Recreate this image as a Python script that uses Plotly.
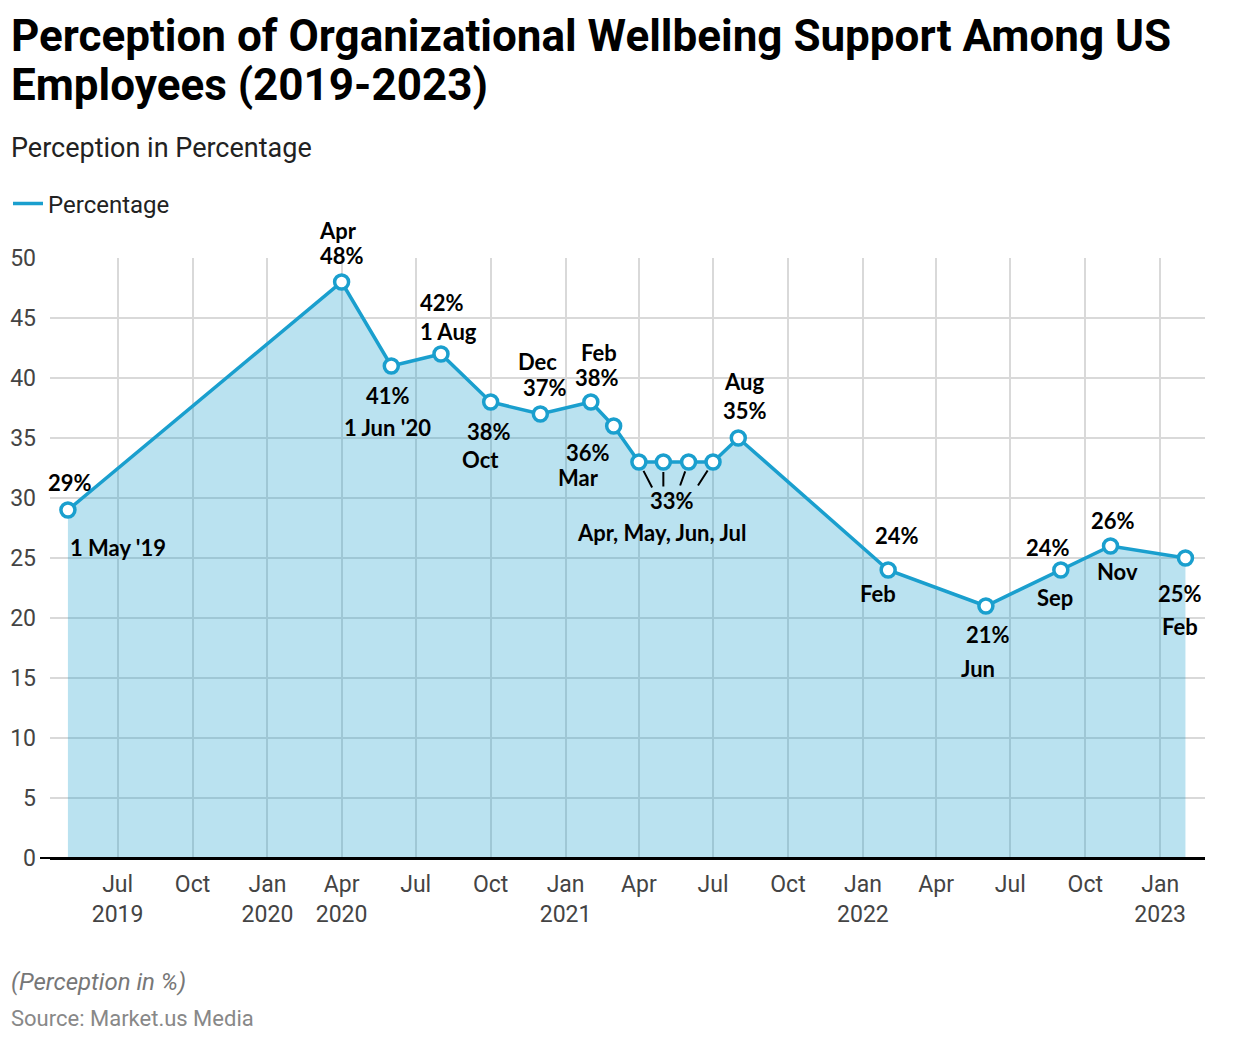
import plotly.graph_objects as go

# ---- data ----
dates = ["2019-05-01", "2020-04-01", "2020-06-01", "2020-08-01", "2020-10-01",
         "2020-12-01", "2021-02-01", "2021-03-01", "2021-04-01", "2021-05-01",
         "2021-06-01", "2021-07-01", "2021-08-01", "2022-02-01", "2022-06-01",
         "2022-09-01", "2022-11-01", "2023-02-01"]
values = [29, 48, 41, 42, 38, 37, 38, 36, 33, 33, 33, 33, 35, 24, 21, 24, 26, 25]

tick_vals = ["2019-07-01", "2019-10-01", "2020-01-01", "2020-04-01", "2020-07-01",
             "2020-10-01", "2021-01-01", "2021-04-01", "2021-07-01", "2021-10-01",
             "2022-01-01", "2022-04-01", "2022-07-01", "2022-10-01", "2023-01-01"]
tick_text = ["Jul<br>2019", "Oct", "Jan<br>2020", "Apr<br>2020", "Jul", "Oct",
             "Jan<br>2021", "Apr", "Jul", "Oct", "Jan<br>2022", "Apr", "Jul", "Oct",
             "Jan<br>2023"]

# point labels: (point index, text)
point_labels = [
    (0, "29%"), (0, "1 May '19"),
    (1, "Apr"), (1, "48%"),
    (2, "41%"), (2, "1 Jun '20"),
    (3, "42%"), (3, "1 Aug"),
    (4, "38%"), (4, "Oct"),
    (5, "Dec"), (5, "37%"),
    (6, "Feb"), (6, "38%"),
    (7, "36%"), (7, "Mar"),
    (9, "33%"), (9, "Apr, May, Jun, Jul"),
    (12, "Aug"), (12, "35%"),
    (13, "24%"), (13, "Feb"),
    (14, "21%"), (14, "Jun"),
    (15, "24%"), (15, "Sep"),
    (16, "26%"), (16, "Nov"),
    (17, "25%"), (17, "Feb"),
]
# pixel offsets (dx, dy downward) for each label, plus anchor
label_offsets = [
    (2, -28, "center"), (0, 37, "left"),
    (-4, -52, "center"), (0, -27, "center"),
    (-3, 29, "center"), (-4, 61, "center"),
    (1, -52, "center"), (8, -23, "center"),
    (-2, 29, "center"), (-10, 57, "center"),
    (-3, -53, "center"), (5, -27, "center"),
    (8, -50, "center"), (6, -25, "center"),
    (-26, 26, "center"), (-35, 51, "center"),
    (9, 38, "center"), (-2, 70, "center"),
    (6, -57, "center"), (7, -28, "center"),
    (9, -35, "center"), (-10, 23, "center"),
    (2, 28, "center"), (-8, 62, "center"),
    (-13, -23, "center"), (-6, 27, "center"),
    (2, -26, "center"), (7, 25, "center"),
    (-5, 35, "center"), (-5, 68, "center"),
]
# connector lines for the 33% group: (point index, ax, ay)
connectors = [(8, 14, 27), (9, 0, 26), (10, -9, 25), (11, -16, 25)]

LINE = "#1a9fce"
W, H = 1255, 1042
L, R, T, B = 50, 50, 258, 184
PW, PH = W - L - R, H - T - B


def px(x):
    return (x - L) / PW


def py(y):
    return (H - B - y) / PH


fig = go.Figure()
fig.add_trace(go.Scatter(
    x=dates, y=values, name="Percentage", mode="lines+markers",
    line=dict(color=LINE, width=3.5),
    marker=dict(size=14, color="white", line=dict(color=LINE, width=3.5)),
    fill="tozeroy", fillcolor="rgba(26,159,206,0.30)",
    cliponaxis=False, showlegend=False,
))
# legend entry (line only)
fig.add_trace(go.Scatter(
    x=[None], y=[None], name="Percentage", mode="lines",
    line=dict(color=LINE, width=3.5), showlegend=True,
))

annos = []
lab_font = dict(family="Lato, Carlito, sans-serif", size=22, color="black", weight=700)
for (idx, txt), (dx, dy, anc) in zip(point_labels, label_offsets):
    annos.append(dict(x=dates[idx], y=values[idx], xref="x", yref="y", text=txt,
                      showarrow=False, xshift=dx, yshift=-dy, xanchor=anc,
                      yanchor="middle", font=lab_font))
for idx, ax, ay in connectors:
    annos.append(dict(x=dates[idx], y=values[idx], xref="x", yref="y", text="",
                      showarrow=True, arrowhead=0, arrowwidth=2, arrowcolor="black",
                      ax=ax, ay=ay, standoff=10))

# title (two lines), subtitle, footers
title_font = dict(family="Roboto", size=44, color="black", weight=700)
annos.append(dict(x=px(9), y=py(36), xref="paper", yref="paper", xanchor="left",
                  yanchor="middle", showarrow=False,
                  text="Perception of Organizational Wellbeing Support Among US",
                  font=title_font))
annos.append(dict(x=px(9), y=py(85), xref="paper", yref="paper", xanchor="left",
                  yanchor="middle", showarrow=False,
                  text="Employees (2019-2023)", font=title_font))
annos.append(dict(x=px(9), y=py(148), xref="paper", yref="paper", xanchor="left",
                  yanchor="middle", showarrow=False, text="Perception in Percentage",
                  font=dict(family="Roboto", size=27, color="#222")))
annos.append(dict(x=px(9), y=py(982), xref="paper", yref="paper", xanchor="left",
                  yanchor="middle", showarrow=False, text="<i>(Perception in %)</i>",
                  font=dict(family="Roboto", size=24, color="#777")))
annos.append(dict(x=px(9), y=py(1018), xref="paper", yref="paper", xanchor="left",
                  yanchor="middle", showarrow=False, text="Source: Market.us Media",
                  font=dict(family="Roboto", size=22, color="#888")))

fig.update_layout(
    width=W, height=H,
    margin=dict(l=L, r=R, t=T, b=B, autoexpand=False),
    paper_bgcolor="white", plot_bgcolor="white",
    showlegend=True,
    legend=dict(orientation="h", x=px(8), y=py(204), xanchor="left", yanchor="middle",
                font=dict(family="Roboto", size=24, color="#222"),
                bgcolor="rgba(0,0,0,0)"),
    annotations=annos,
    xaxis=dict(type="date", range=["2019-04-09", "2023-02-25"],
               tickvals=tick_vals, ticktext=tick_text,
               showgrid=True, gridcolor="#d9d9d9", gridwidth=2,
               showline=True, linecolor="black", linewidth=2,
               ticks="", tickfont=dict(family="Roboto", size=23, color="#444"),
               ticklabelstandoff=4,
               zeroline=False, fixedrange=True, automargin=False),
    yaxis=dict(range=[0, 50], dtick=5, showgrid=True, gridcolor="#d9d9d9", gridwidth=2,
               zeroline=False, showline=False, ticks="",
               tickfont=dict(family="Roboto", size=23, color="#444"),
               ticklabelstandoff=13, fixedrange=True, automargin=False),
    shapes=[dict(type="line", xref="paper", yref="paper", x0=px(40), x1=1, y0=0, y1=0,
                 line=dict(color="black", width=2))],
)

fig.write_html("out.html")
